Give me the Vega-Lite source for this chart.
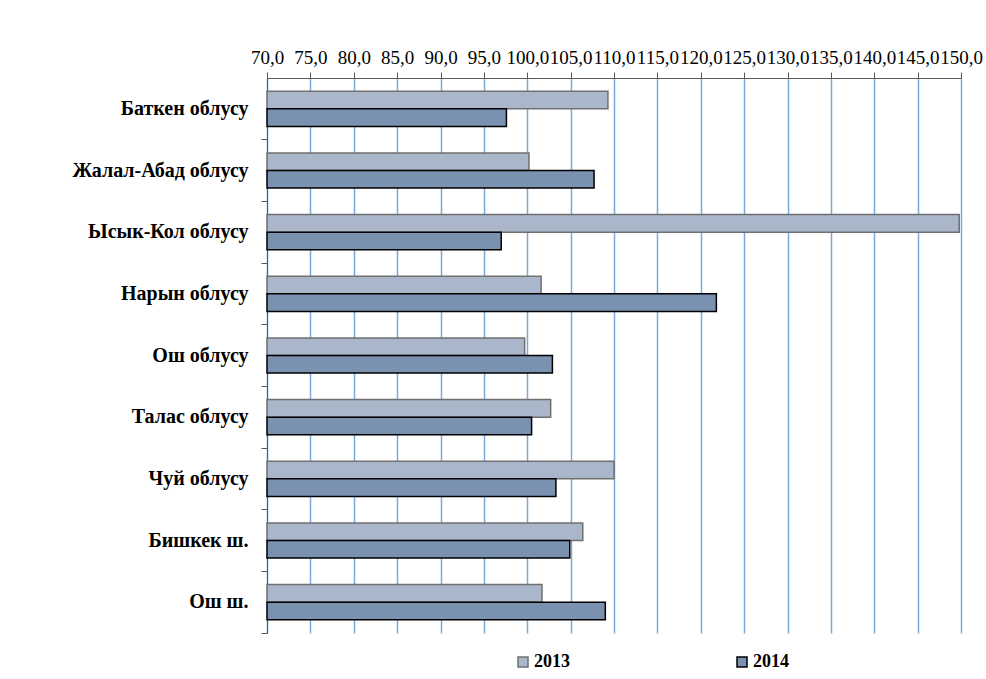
{
  "$schema": "https://vega.github.io/schema/vega-lite/v6.json",
  "autosize": {"type": "none"},
  "width": 694,
  "height": 555,
  "padding": {"left": 267, "top": 78, "right": 25, "bottom": 46},
  "background": "white",
  "config": {
    "locale": {"number": {"decimal": ",", "thousands": " ", "grouping": [3], "currency": ["", ""]}},
    "view": {"stroke": null},
    "font": "Liberation Serif"
  },
  "data": {
    "values": [
      {"region": "Баткен облусу", "year": "2013", "value": 109.3},
      {"region": "Баткен облусу", "year": "2014", "value": 97.6},
      {"region": "Жалал-Абад облусу", "year": "2013", "value": 100.2},
      {"region": "Жалал-Абад облусу", "year": "2014", "value": 107.7},
      {"region": "Ысык-Кол облусу", "year": "2013", "value": 149.8},
      {"region": "Ысык-Кол облусу", "year": "2014", "value": 97.0},
      {"region": "Нарын облусу", "year": "2013", "value": 101.6},
      {"region": "Нарын облусу", "year": "2014", "value": 121.8},
      {"region": "Ош облусу", "year": "2013", "value": 99.7},
      {"region": "Ош облусу", "year": "2014", "value": 102.9},
      {"region": "Талас облусу", "year": "2013", "value": 102.7},
      {"region": "Талас облусу", "year": "2014", "value": 100.5},
      {"region": "Чуй облусу", "year": "2013", "value": 110.0},
      {"region": "Чуй облусу", "year": "2014", "value": 103.3},
      {"region": "Бишкек ш.", "year": "2013", "value": 106.4},
      {"region": "Бишкек ш.", "year": "2014", "value": 104.9},
      {"region": "Ош ш.", "year": "2013", "value": 101.7},
      {"region": "Ош ш.", "year": "2014", "value": 109.0}
    ]
  },
  "mark": {"type": "bar", "strokeWidth": 1.5},
  "encoding": {
    "y": {
      "field": "region",
      "type": "nominal",
      "sort": null,
      "scale": {"paddingInner": 0, "paddingOuter": 0},
      "axis": {
        "title": null,
        "bandPosition": 1,
        "domainColor": "#595959",
        "domainWidth": 1,
        "tickColor": "#595959",
        "tickSize": 6,
        "labelFont": "Liberation Serif",
        "labelFontWeight": "bold",
        "labelFontSize": 20,
        "labelColor": "#000000",
        "labelPadding": 13,
        "labelBound": false
      }
    },
    "yOffset": {
      "field": "year",
      "type": "nominal",
      "sort": ["2013", "2014"],
      "scale": {"paddingInner": 0, "paddingOuter": 0.75}
    },
    "x": {
      "field": "value",
      "type": "quantitative",
      "scale": {"domain": [70, 150], "zero": false, "nice": false},
      "axis": {
        "orient": "top",
        "title": null,
        "values": [70, 75, 80, 85, 90, 95, 100, 105, 110, 115, 120, 125, 130, 135, 140, 145, 150],
        "format": ".1f",
        "labelFont": "Liberation Serif",
        "labelFontSize": 19,
        "labelColor": "#000000",
        "labelPadding": 5,
        "labelFlush": false,
        "labelOverlap": false,
        "domainColor": "#595959",
        "tickColor": "#595959",
        "tickSize": 6,
        "grid": true,
        "gridColor": "#7aaadc",
        "gridWidth": 1.5
      }
    },
    "x2": {"datum": 70},
    "fill": {
      "field": "year",
      "type": "nominal",
      "scale": {"domain": ["2013", "2014"], "range": ["#aab6ca", "#7a91b0"]},
      "legend": {
        "title": null,
        "orient": "none",
        "legendX": 247,
        "legendY": 575,
        "direction": "horizontal",
        "symbolType": "square",
        "symbolSize": 100,
        "symbolStrokeWidth": 1.5,
        "columnPadding": 163,
        "labelFont": "Liberation Serif",
        "labelFontWeight": "bold",
        "labelFontSize": 18,
        "labelColor": "#000000",
        "labelOffset": 2
      }
    },
    "stroke": {
      "field": "year",
      "type": "nominal",
      "scale": {"domain": ["2013", "2014"], "range": ["#707070", "#000000"]}
    }
  }
}
